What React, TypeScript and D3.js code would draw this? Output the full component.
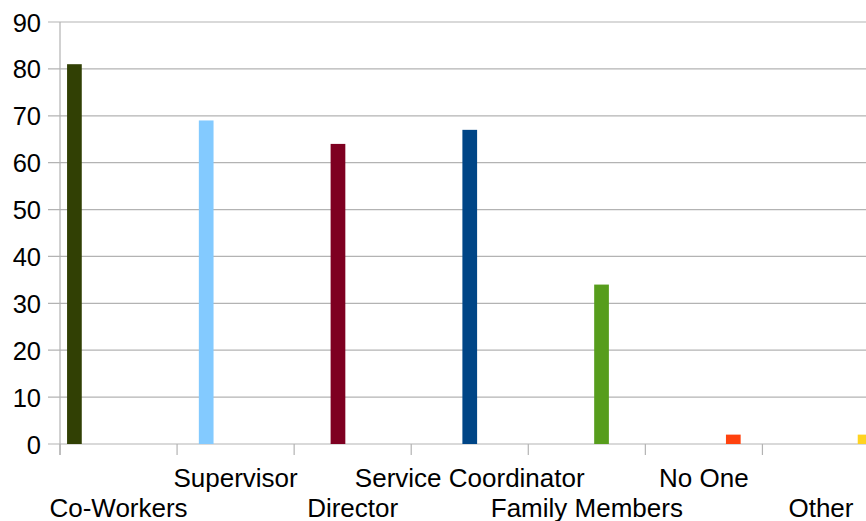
import React from "react";
import * as d3 from "d3";

const categories = [
  "Co-Workers",
  "Supervisor",
  "Director",
  "Service Coordinator",
  "Family Members",
  "No One",
  "Other",
];
const values = [81, 69, 64, 67, 34, 2, 2];
const colors = ["#314004", "#83caff", "#7e0021", "#004586", "#579d1c", "#ff420e", "#ffd320"];
const yTicks = [0, 10, 20, 30, 40, 50, 60, 70, 80, 90];

const W = 866;
const H = 521;
const left = 60;
const top = 22;
const bottom = 444;
const right = 879.5;

export default function App() {
  const x = d3.scaleBand<string>().domain(categories).range([left, right]).padding(0);
  // each category holds one slot per series; only its own series is non-zero
  const inner = d3
    .scaleBand<number>()
    .domain(d3.range(categories.length))
    .range([0, x.bandwidth()])
    .paddingInner(0)
    .paddingOuter(0.48);
  const y = d3.scaleLinear().domain([0, 90]).range([bottom, top]);
  const font = "'Liberation Sans', Arial, sans-serif";
  const grid = "#b3b3b3";

  return (
    <svg
      width={W}
      height={H}
      style={{ position: "absolute", left: 0, top: 0, background: "#fff" }}
      fontFamily={font}
    >
      {yTicks.map((t) => (
        <g key={t}>
          <line x1={left - 12} x2={W} y1={y(t)} y2={y(t)} stroke={grid} strokeWidth={1.2} />
          <text x={41} y={y(t) + 9.5} fontSize={25.5} textAnchor="end" fill="#000">
            {t}
          </text>
        </g>
      ))}
      <line x1={left} x2={left} y1={top} y2={bottom + 11} stroke={grid} strokeWidth={1.2} />
      {categories.map((c) => (
        <line
          key={"t" + c}
          x1={x(c)!}
          x2={x(c)!}
          y1={bottom}
          y2={bottom + 11}
          stroke={grid}
          strokeWidth={1.2}
        />
      ))}
      {categories.map((c, i) => {
        const bx = x(c)! + inner(i)!;
        return (
          <rect
            key={"b" + c}
            x={bx}
            y={y(values[i])}
            width={inner.bandwidth()}
            height={y(0) - y(values[i])}
            fill={colors[i]}
          />
        );
      })}
      {categories.map((c, i) => (
        <text
          key={"l" + c}
          x={x(c)! + x.bandwidth() / 2}
          y={i % 2 === 0 ? 516.5 : 486.5}
          fontSize={26}
          textAnchor="middle"
          fill="#000"
        >
          {c}
        </text>
      ))}
    </svg>
  );
}
